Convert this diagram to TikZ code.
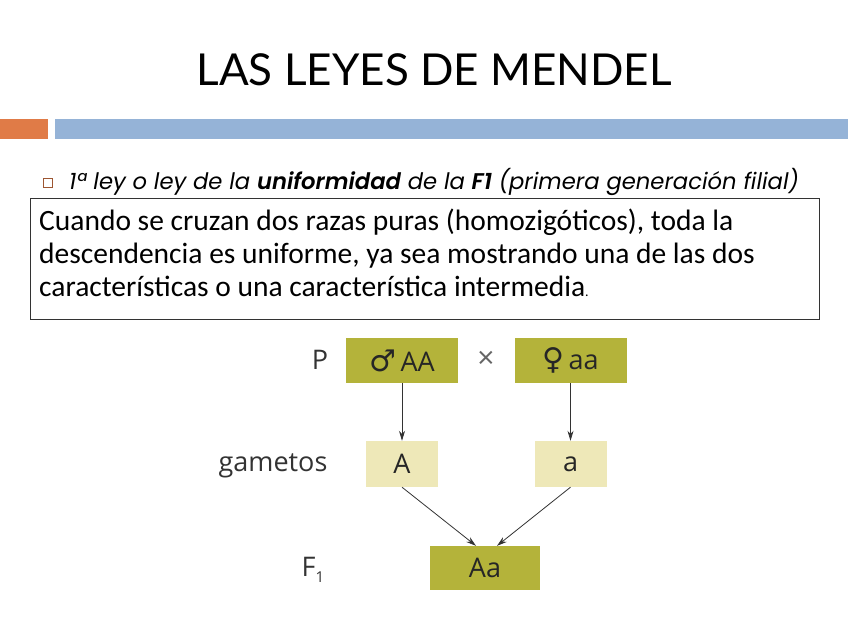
\documentclass[tikz,border=0pt]{standalone}
\usepackage{fontspec}
\setmainfont{Carlito}
\newfontfamily\titlefont{Lato}
\newfontfamily\bulletfont[BoldFont={Poppins SemiBold},BoldItalicFont={Poppins SemiBold Italic}]{Poppins}
\newfontfamily\diafont{Open Sans}
\newfontfamily\symfont{DejaVu Sans}
\usetikzlibrary{arrows.meta}
\definecolor{orangebar}{HTML}{E07B47}
\definecolor{bluebar}{HTML}{95B3D7}
\definecolor{olive}{HTML}{B4B33A}
\definecolor{palegam}{HTML}{EEE8B8}
\definecolor{arrowgray}{HTML}{333333}
\begin{document}
\begin{tikzpicture}[x=1pt,y=-1pt,
  pbox/.style={fill=olive,minimum width=112pt,minimum height=45pt,inner sep=0pt,font=\diafont\fontsize{27}{27}\selectfont,text=black!85},
  gbox/.style={fill=palegam,minimum width=72pt,minimum height=46pt,inner sep=0pt,font=\diafont\fontsize{27}{27}\selectfont,text=black!85},
  lbl/.style={font=\diafont\fontsize{27}{27}\selectfont,text=black!80,inner sep=0pt},
  arr/.style={draw=arrowgray,line width=0.8pt,-{Stealth[length=10pt,width=6pt]}}]
\useasboundingbox (0,0) rectangle (848,636);
\fill[white] (0,0) rectangle (848,636);
% title
\node[font=\titlefont\fontsize{44}{44}\selectfont,inner sep=0pt] (title) at (434,70) {LAS LEYES DE MENDEL};
% bars
\fill[orangebar] (0,119) rectangle (48,139);
\fill[bluebar] (55,119) rectangle (848,139);
% bullet
\draw[orangebar!70!black,line width=0.8pt] (43.5,178.5) rectangle (52.5,187.5);
\node[anchor=west,inner sep=0pt,font=\bulletfont\itshape\fontsize{22.7}{22.7}\selectfont] (bullet) at (69,182)
  {1ª ley o ley de la \textbf{uniformidad} de la \textbf{F1} (primera generación filial)};
% box
\draw[black!80,line width=0.8pt] (30,198) rectangle (819,319);
\node[anchor=north west,inner sep=0pt,align=left,font=\fontsize{29.5}{33}\selectfont] (desc) at (39,209)
  {Cuando se cruzan dos razas puras (homozigóticos), toda la\\
   descendencia es uniforme, ya sea mostrando una de las dos\\
   características o una característica intermedia{\fontsize{14}{14}\selectfont.}};
% diagram
\node[lbl] (P) at (320,360) {P};
\node[pbox] (male) at (402,360.5) {{\symfont\fontsize{30}{30}\selectfont ♂}\,AA};
\node[lbl,font=\diafont\fontsize{30}{30}\selectfont,text=black!60] (cross) at (486,360) {×};
\node[pbox] (female) at (570.5,360.5) {{\symfont\fontsize{30}{30}\selectfont ♀}\,aa};
\node[lbl] (gam) at (273,466) {gametos};
\node[gbox] (gA) at (402,464) {A};
\node[gbox] (ga) at (570.5,464) {a};
\node[lbl] (F1) at (313,570) {F\raisebox{-6pt}{\fontsize{15}{15}\selectfont 1}};
\node[pbox,minimum width=110pt,minimum height=44pt] (f1) at (485,568) {Aa};
\draw[arr] (male.south) -- (gA.north);
\draw[arr] (female.south) -- (ga.north);
\draw[arr] (gA.south) -- ([xshift=-9pt]f1.north);
\draw[arr] (ga.south) -- ([xshift=12pt]f1.north);
\end{tikzpicture}
\end{document}
